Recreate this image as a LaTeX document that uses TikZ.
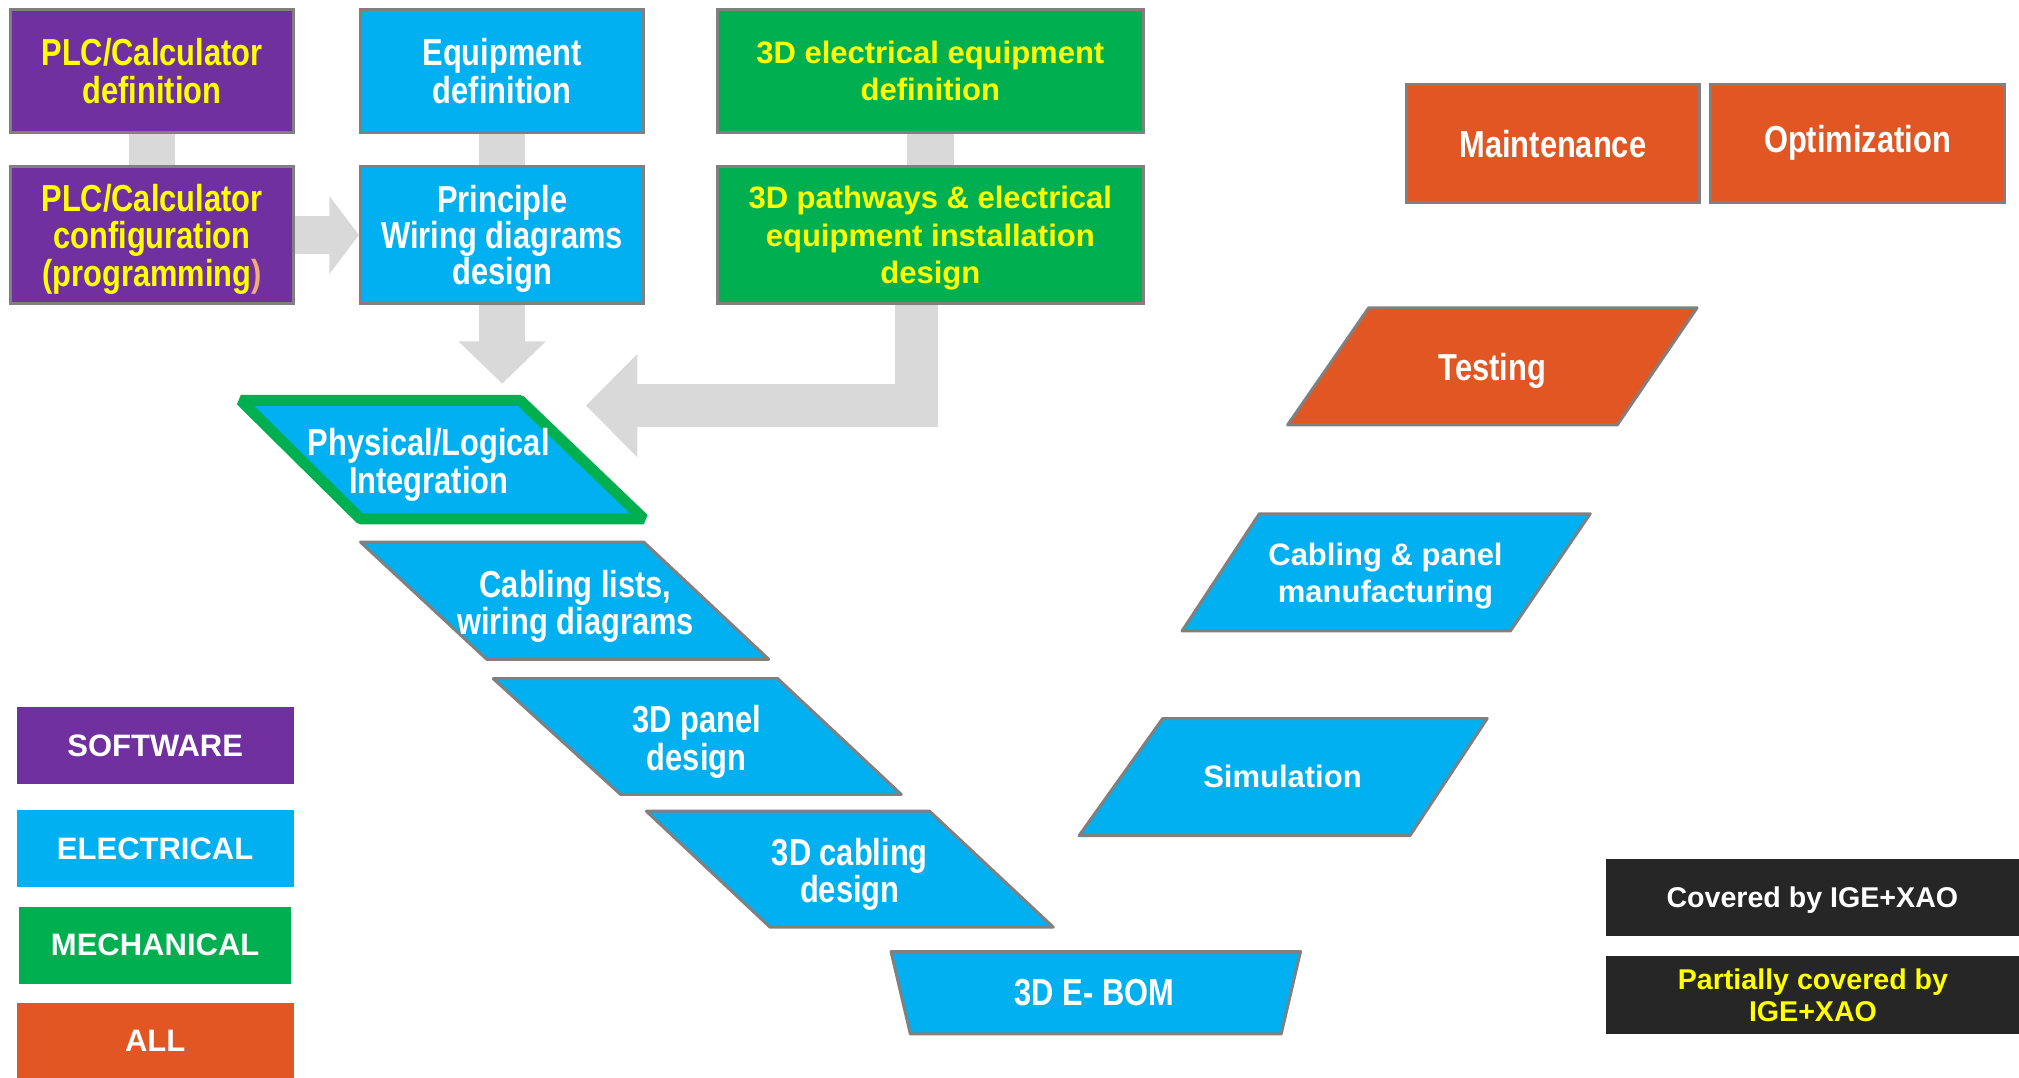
\documentclass[tikz,border=0pt]{standalone}
\usepackage{fontspec}
\setmainfont{Liberation Sans}
\newfontfamily\nrw{Liberation Sans}[FakeStretch=0.82]
\usepackage{tikz}
\usetikzlibrary{arrows.meta,positioning}
\definecolor{pu}{RGB}{112,48,160}
\definecolor{bl}{RGB}{0,176,240}
\definecolor{gn}{RGB}{0,176,80}
\definecolor{og}{RGB}{225,86,35}
\definecolor{ye}{RGB}{255,255,0}
\definecolor{gb}{RGB}{128,128,128}
\definecolor{ga}{RGB}{217,217,217}
\definecolor{dk}{RGB}{38,38,38}
\definecolor{pk}{RGB}{244,170,120}
\newcommand{\nfs}{\nrw\bfseries\fontsize{18.8}{18.7}\selectfont\lineskiplimit=-20pt}
\newcommand{\pfs}{\nrw\bfseries\fontsize{18.8}{18}\selectfont\lineskiplimit=-20pt}
\newcommand{\wfs}{\bfseries\fontsize{15.5}{18.7}\selectfont\lineskiplimit=-20pt}
\tikzstyle{blk}=[draw=gb,line width=1.5pt,align=center,inner sep=0pt,text depth=0pt]
\tikzstyle{sw}=[blk,fill=pu,text=ye,font=\nfs,minimum width=141.6pt]
\tikzstyle{el}=[blk,fill=bl,text=white,font=\nfs,minimum width=141.6pt]
\tikzstyle{me}=[blk,fill=gn,text=ye,font=\wfs,minimum width=213.1pt]
\tikzstyle{al}=[blk,fill=og,text=white,font=\nfs,minimum width=146.8pt,minimum height=58.6pt]
\tikzstyle{pg}=[draw=gb,line width=1.5pt,fill=bl,line join=round]
\tikzstyle{txt}=[align=center,text=white,font=\nfs,text depth=0pt]
\tikzstyle{lg}=[minimum width=138.4pt,minimum height=38.6pt,text=white,font=\wfs]
\tikzstyle{cv}=[fill=dk,minimum width=206.7pt,minimum height=38.9pt,align=center,text depth=0pt,font=\bfseries\fontsize{14.3}{16}\selectfont]
\tikzstyle{bar}=[draw=ga,line width=23.2pt]

\begin{document}
\begin{tikzpicture}[x=0.6438pt,y=-0.6438pt,node distance=82.1pt]
	\useasboundingbox (0,0) rectangle (1568,837);
	\node[sw,minimum height=61.8pt] (pd) at (118,55) {PLC/Calculator\\definition};
	\node[sw,minimum height=68.9pt] (pc) [below of=pd] {PLC/Calculator\\configuration\\(programming{\color{pk})}};
	\node[el,minimum height=61.8pt] (ed) at (390,55) {Equipment\\definition};
	\node[el,minimum height=68.9pt,font=\pfs] (pr) [below of=ed] {Principle\\Wiring diagrams\\design};
	\node[me,minimum height=61.8pt] (md) at (722.5,55) {3D electrical equipment\\definition};
	\node[me,minimum height=68.9pt] (pw) [below of=md] {3D pathways \& electrical\\equipment installation\\design};
	\node[al] (mt) at (1206,111.5) {Maintenance};
	\node[al] (op) [right of=mt,node distance=152.3pt] {\raisebox{5pt}{Optimization}};
	\coordinate (t5) at (390,298);
	\coordinate (t6) at (455,315);
	\draw[bar] (pd) -- (pc);
	\draw[bar] (ed) -- (pr);
	\draw[bar] (md) -- (pw);
	\draw[bar,line width=18.7pt,-{Triangle[length=14.8pt,width=38pt]}] (pc.east) -- (pr.west);
	\draw[bar,-{Triangle[length=21.2pt,width=42.5pt]}] (pr.south) -- (t5);
	\draw[bar,line width=21.6pt,-{Triangle[length=25.8pt,width=50.2pt]}] ([xshift=-7.1pt]pw.south) |- (t6);
	\draw[fill=bl,draw=gn,line width=5.5pt,line join=bevel] (187,311) -- (404,311) -- (500,403) -- (280,403) -- cycle;
	\node[txt] (ph) at (333,358) {Physical/Logical\\Integration};
	\draw[pg] (280,421) -- (500,421) -- (597,512) -- (378,512) -- cycle;
	\node[txt] (cl) at (447,468) {Cabling lists,\\wiring diagrams};
	\draw[pg] (383,527) -- (604,527) -- (700,617) -- (482,617) -- cycle;
	\node[txt] (pn) at (541,573) {3D panel\\design};
	\draw[pg] (502,630) -- (722,630) -- (818,720) -- (598,720) -- cycle;
	\node[txt] (cb) at (660,676) {3D cabling\\design};
	\draw[pg] (692,739) -- (1010,739) -- (995,803) -- (707,803) -- cycle;
	\node[txt] (eb) at (850,771) {3D E- BOM};
	\draw[pg] (903,558) -- (1155,558) -- (1095,649) -- (838,649) -- cycle;
	\node[txt,font=\wfs] (si) at (996,603) {Simulation};
	\draw[pg] (978,399) -- (1235,399) -- (1173,490) -- (918,490) -- cycle;
	\node[txt,font=\wfs] (mf) at (1076,445) {Cabling \& panel\\manufacturing};
	\draw[pg,fill=og] (1063,239) -- (1318,239) -- (1256,330) -- (1000,330) -- cycle;
	\node[txt] (te) at (1159,285) {Testing};
	\node[lg,fill=pu] (ls) at (120.5,579) {SOFTWARE};
	\node[lg,fill=bl] (le) at (120.5,659) {ELECTRICAL};
	\node[lg,fill=gn,minimum width=135.8pt] (lm) at (120.5,734) {MECHANICAL};
	\node[lg,fill=og,minimum height=37.3pt] (la) at (120.5,808) {ALL};
	\node[cv,text=white] (cf) at (1407.5,697) {Covered by IGE+XAO};
	\node[cv,text=ye] (cp) at (1408,772.5) {Partially covered by\\IGE+XAO};
\end{tikzpicture}
\end{document}
